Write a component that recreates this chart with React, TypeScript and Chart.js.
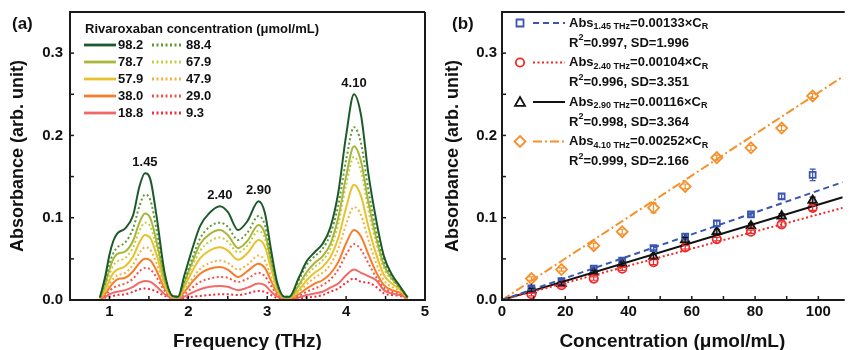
import React, { useEffect, useRef } from 'react';
import { Chart, registerables } from 'chart.js';

Chart.register(...registerables);

const FONT = "'Liberation Sans', Arial, Helvetica, sans-serif";

// ---------- Panel (a): spectra ----------
const spectrumFreq = [
  0.88, 0.95, 1.0, 1.05, 1.1, 1.2, 1.3, 1.38, 1.45, 1.52, 1.6, 1.7, 1.8,
  1.87, 1.95, 2.05, 2.15, 2.27, 2.4, 2.5, 2.63, 2.75, 2.89, 2.97, 3.05, 3.13, 3.22,
  3.28, 3.4, 3.5, 3.6, 3.7, 3.8, 3.9, 4.0, 4.1, 4.19, 4.28, 4.38, 4.48, 4.58, 4.68, 4.78,
];

const abs982 = [
  0.003, 0.030, 0.055, 0.072, 0.081, 0.087, 0.103, 0.138, 0.154, 0.146, 0.100, 0.033, 0.005,
  0.004, 0.030, 0.062, 0.090, 0.106, 0.114, 0.107, 0.085, 0.096, 0.120, 0.106, 0.060, 0.020, 0.004,
  0.004, 0.027, 0.047, 0.058, 0.068, 0.088, 0.130, 0.200, 0.250, 0.224, 0.155, 0.098, 0.053, 0.031, 0.017, 0.003,
];
const abs884 = [
  0.003, 0.024, 0.044, 0.057, 0.064, 0.070, 0.087, 0.114, 0.128, 0.121, 0.084, 0.030, 0.005,
  0.004, 0.024, 0.051, 0.075, 0.089, 0.094, 0.089, 0.073, 0.082, 0.102, 0.091, 0.052, 0.018, 0.004,
  0.004, 0.024, 0.043, 0.053, 0.062, 0.080, 0.115, 0.170, 0.210, 0.190, 0.135, 0.085, 0.047, 0.028, 0.015, 0.003,
];
const abs787 = [
  0.003, 0.020, 0.037, 0.050, 0.056, 0.059, 0.072, 0.094, 0.105, 0.099, 0.070, 0.025, 0.004,
  0.003, 0.021, 0.046, 0.068, 0.080, 0.085, 0.079, 0.063, 0.072, 0.091, 0.081, 0.047, 0.016, 0.003,
  0.003, 0.018, 0.034, 0.045, 0.053, 0.068, 0.100, 0.150, 0.187, 0.168, 0.120, 0.076, 0.042, 0.026, 0.016, 0.003,
];
const abs679 = [
  0.003, 0.017, 0.031, 0.042, 0.047, 0.051, 0.064, 0.084, 0.094, 0.089, 0.063, 0.023, 0.004,
  0.003, 0.019, 0.041, 0.060, 0.071, 0.076, 0.071, 0.058, 0.066, 0.084, 0.075, 0.043, 0.015, 0.003,
  0.003, 0.016, 0.030, 0.040, 0.048, 0.062, 0.092, 0.140, 0.174, 0.156, 0.110, 0.070, 0.038, 0.024, 0.015, 0.003,
];
const abs579 = [
  0.002, 0.013, 0.024, 0.033, 0.037, 0.041, 0.053, 0.070, 0.079, 0.075, 0.054, 0.020, 0.003,
  0.003, 0.016, 0.035, 0.051, 0.060, 0.064, 0.060, 0.049, 0.057, 0.073, 0.065, 0.038, 0.013, 0.003,
  0.003, 0.012, 0.024, 0.033, 0.040, 0.052, 0.075, 0.112, 0.140, 0.126, 0.090, 0.056, 0.030, 0.020, 0.013, 0.003,
];
const abs479 = [
  0.002, 0.010, 0.019, 0.026, 0.030, 0.033, 0.043, 0.057, 0.064, 0.061, 0.044, 0.017, 0.003,
  0.002, 0.012, 0.026, 0.038, 0.045, 0.048, 0.045, 0.037, 0.043, 0.054, 0.048, 0.028, 0.010, 0.002,
  0.002, 0.010, 0.019, 0.027, 0.033, 0.043, 0.062, 0.092, 0.113, 0.103, 0.074, 0.045, 0.024, 0.016, 0.011, 0.002,
];
const abs380 = [
  0.002, 0.008, 0.015, 0.021, 0.025, 0.027, 0.035, 0.045, 0.050, 0.048, 0.035, 0.014, 0.003,
  0.002, 0.010, 0.022, 0.032, 0.038, 0.040, 0.037, 0.028, 0.035, 0.044, 0.039, 0.023, 0.008, 0.002,
  0.002, 0.007, 0.014, 0.020, 0.024, 0.032, 0.046, 0.069, 0.085, 0.077, 0.056, 0.034, 0.018, 0.012, 0.009, 0.002,
];
const abs290 = [
  0.002, 0.006, 0.011, 0.015, 0.017, 0.020, 0.026, 0.035, 0.039, 0.037, 0.027, 0.011, 0.002,
  0.002, 0.007, 0.015, 0.022, 0.026, 0.028, 0.027, 0.022, 0.026, 0.033, 0.029, 0.017, 0.006, 0.002,
  0.002, 0.005, 0.010, 0.014, 0.018, 0.025, 0.037, 0.055, 0.068, 0.061, 0.045, 0.028, 0.015, 0.010, 0.008, 0.002,
];
const abs188 = [
  0.001, 0.004, 0.007, 0.009, 0.010, 0.012, 0.016, 0.021, 0.023, 0.022, 0.016, 0.007, 0.002,
  0.001, 0.004, 0.009, 0.013, 0.016, 0.017, 0.016, 0.012, 0.015, 0.020, 0.018, 0.010, 0.004, 0.001,
  0.001, 0.003, 0.006, 0.008, 0.010, 0.015, 0.020, 0.030, 0.037, 0.033, 0.029, 0.024, 0.012, 0.008, 0.006, 0.002,
];
const abs093 = [
  0.001, 0.003, 0.004, 0.005, 0.006, 0.007, 0.010, 0.013, 0.014, 0.013, 0.010, 0.005, 0.002,
  0.001, 0.002, 0.004, 0.005, 0.006, 0.007, 0.007, 0.006, 0.008, 0.011, 0.010, 0.006, 0.002, 0.001,
  0.001, 0.002, 0.003, 0.004, 0.006, 0.010, 0.014, 0.021, 0.026, 0.022, 0.021, 0.016, 0.008, 0.006, 0.005, 0.002,
];

const spectrumLabels = ['98.2', '88.4', '78.7', '67.9', '57.9', '47.9', '38.0', '29.0', '18.8', '9.3'];
const spectrumValues = [abs982, abs884, abs787, abs679, abs579, abs479, abs380, abs290, abs188, abs093];
const spectrumColors = ['#1d5a2b', '#5e9a33', '#a8b63b', '#c6cd3e', '#e8c22e', '#f3b23c', '#f67e2b', '#f4544c', '#f26a68', '#ee2f3c'];
const spectrumDotted = [false, true, false, true, false, true, false, true, false, true];

const peakLabels = ['1.45', '2.40', '2.90', '4.10'];
const peakFreqs = [1.45, 2.4, 2.89, 4.1];
const legendTitleA = 'Rivaroxaban concentration (\u03bcmol/mL)';

// ---------- Panel (b): calibration ----------
const concentration = [9.3, 18.8, 29.0, 38.0, 47.9, 57.9, 67.9, 78.7, 88.4, 98.2];
const absAt145 = [0.014, 0.023, 0.038, 0.048, 0.063, 0.077, 0.093, 0.104, 0.126, 0.152];
const absAt240 = [0.007, 0.018, 0.026, 0.038, 0.046, 0.064, 0.074, 0.083, 0.092, 0.112];
const absAt290 = [0.012, 0.020, 0.034, 0.044, 0.053, 0.073, 0.083, 0.090, 0.102, 0.121];
const absAt410 = [0.026, 0.037, 0.066, 0.083, 0.112, 0.138, 0.173, 0.185, 0.209, 0.248];
const errAt145 = [0.002, 0.002, 0.002, 0.002, 0.002, 0.003, 0.003, 0.002, 0.003, 0.007];
const errAt240 = [0.002, 0.002, 0.002, 0.002, 0.003, 0.002, 0.002, 0.002, 0.003, 0.003];
const errAt290 = [0.002, 0.002, 0.002, 0.002, 0.003, 0.003, 0.003, 0.003, 0.003, 0.004];
const errAt410 = [0.002, 0.002, 0.003, 0.003, 0.006, 0.003, 0.003, 0.003, 0.003, 0.003];

const fitBands = ['1.45 THz', '2.40 THz', '2.90 THz', '4.10 THz'];
const fitSlopes = [0.00133, 0.00104, 0.00116, 0.00252];
const fitR2 = ['0.997', '0.996', '0.998', '0.999'];
const fitSD = ['1.996', '3.351', '3.364', '2.166'];
const concMax = 107.7;

const seriesColorsB = ['#3a56b0', '#ee2a2a', '#111111', '#f5902a'];
const markerStylesB = ['rect', 'circle', 'triangle', 'rectRot'];
const lineDashB = [[6, 4], [2, 2.5], [], [9, 3, 2, 3]];

// ---------- helpers ----------
function isMult(v: number, step: number) {
  const r = v / step;
  return Math.abs(r - Math.round(r)) < 1e-6;
}

const framePlugin = (fullBox: boolean) => ({
  id: 'frame',
  afterDatasetsDraw(chart: any) {
    const { ctx, chartArea, scales } = chart;
    const { left, right, top, bottom } = chartArea;
    ctx.save();
    ctx.strokeStyle = '#1a1a1a';
    ctx.lineWidth = 1.5;
    ctx.setLineDash([]);
    scales.x.ticks.forEach((t: any) => {
      const px = scales.x.getPixelForValue(t.value);
      ctx.beginPath();
      ctx.moveTo(px, bottom);
      ctx.lineTo(px, bottom - 4);
      ctx.stroke();
    });
    scales.y.ticks.forEach((t: any) => {
      const py = scales.y.getPixelForValue(t.value);
      ctx.beginPath();
      ctx.moveTo(left, py);
      ctx.lineTo(left + 4, py);
      ctx.stroke();
    });
    ctx.lineWidth = 2;
    ctx.beginPath();
    ctx.moveTo(right + (fullBox ? 0 : 2), top);
    ctx.lineTo(left, top);
    ctx.lineTo(left, bottom);
    ctx.lineTo(right + (fullBox ? 0 : 2), bottom);
    if (fullBox) ctx.lineTo(right, top);
    ctx.stroke();
    ctx.restore();
  },
});

const panelLabel = (text: string, x: number, y: number) => ({
  id: 'panelLabel',
  afterDraw(chart: any) {
    const ctx = chart.ctx;
    ctx.save();
    ctx.font = `bold 17px ${FONT}`;
    ctx.fillStyle = '#111';
    ctx.textBaseline = 'middle';
    ctx.fillText(text, x, y);
    ctx.restore();
  },
});

const legendAPlugin = {
  id: 'legendA',
  afterDraw(chart: any) {
    const ctx = chart.ctx;
    ctx.save();
    ctx.font = `bold 13px ${FONT}`;
    ctx.fillStyle = '#111';
    ctx.textBaseline = 'middle';
    ctx.fillText(legendTitleA, 85, 29);
    chart.data.datasets.forEach((ds: any, i: number) => {
      const col = i % 2;
      const row = Math.floor(i / 2);
      const y = 45 + row * 17;
      const x0 = col === 0 ? 84 : 152;
      const x1 = col === 0 ? 116 : 181;
      ctx.strokeStyle = ds.borderColor;
      ctx.lineWidth = 2.8;
      ctx.setLineDash(ds.borderDash || []);
      ctx.beginPath();
      ctx.moveTo(x0, y);
      ctx.lineTo(x1, y);
      ctx.stroke();
      ctx.setLineDash([]);
      ctx.fillText(ds.label, col === 0 ? 118 : 186, y);
    });
    ctx.restore();
  },
};

const peakLabelPlugin = {
  id: 'peakLabels',
  afterDatasetsDraw(chart: any) {
    const { ctx, scales } = chart;
    const top = chart.data.datasets[0].data as { x: number; y: number }[];
    ctx.save();
    ctx.font = `bold 13px ${FONT}`;
    ctx.fillStyle = '#111';
    ctx.textAlign = 'center';
    ctx.textBaseline = 'middle';
    peakLabels.forEach((lab, i) => {
      const f = peakFreqs[i];
      let best = top[0];
      top.forEach((p) => {
        if (Math.abs(p.x - f) < Math.abs(best.x - f)) best = p;
      });
      ctx.fillText(lab, scales.x.getPixelForValue(f), scales.y.getPixelForValue(best.y) - 11);
    });
    ctx.restore();
  },
};

function drawMarker(ctx: CanvasRenderingContext2D, style: string, x: number, y: number, color: string) {
  ctx.save();
  ctx.strokeStyle = color;
  ctx.lineWidth = 1.8;
  ctx.setLineDash([]);
  ctx.beginPath();
  if (style === 'rect') {
    ctx.rect(x - 3.5, y - 3.5, 7, 7);
  } else if (style === 'circle') {
    ctx.arc(x, y, 4.2, 0, Math.PI * 2);
  } else if (style === 'triangle') {
    ctx.moveTo(x, y - 5);
    ctx.lineTo(x + 5, y + 3.8);
    ctx.lineTo(x - 5, y + 3.8);
    ctx.closePath();
  } else {
    ctx.moveTo(x, y - 5.5);
    ctx.lineTo(x + 5.5, y);
    ctx.lineTo(x, y + 5.5);
    ctx.lineTo(x - 5.5, y);
    ctx.closePath();
  }
  ctx.stroke();
  ctx.restore();
}

function drawRich(ctx: CanvasRenderingContext2D, x: number, y: number, parts: [string, string][]) {
  let cx = x;
  for (const [t, k] of parts) {
    const size = k === 'n' ? 13 : 9;
    ctx.font = `bold ${size}px ${FONT}`;
    const dy = k === 'sub' ? 4 : k === 'sup' ? -5 : 0;
    ctx.fillText(t, cx, y + dy);
    cx += ctx.measureText(t).width;
  }
}

const legendBPlugin = {
  id: 'legendB',
  afterDraw(chart: any) {
    const ctx = chart.ctx;
    ctx.save();
    ctx.fillStyle = '#111';
    ctx.textBaseline = 'middle';
    fitBands.forEach((band, i) => {
      const y = 23 + i * 39.5;
      drawMarker(ctx, markerStylesB[i], 90, y, seriesColorsB[i]);
      ctx.strokeStyle = seriesColorsB[i];
      ctx.lineWidth = 2;
      ctx.setLineDash(lineDashB[i]);
      ctx.beginPath();
      ctx.moveTo(103, y);
      ctx.lineTo(135, y);
      ctx.stroke();
      ctx.setLineDash([]);
      ctx.fillStyle = '#111';
      drawRich(ctx, 139, y, [
        ['Abs', 'n'],
        [band, 'sub'],
        ['=' + fitSlopes[i].toFixed(5) + '\u00d7C', 'n'],
        ['R', 'sub'],
      ]);
      drawRich(ctx, 139, y + 20, [
        ['R', 'n'],
        ['2', 'sup'],
        ['=' + fitR2[i] + ', SD=' + fitSD[i], 'n'],
      ]);
    });
    ctx.restore();
  },
};

const errorBarPlugin = {
  id: 'errorBars',
  afterDatasetsDraw(chart: any) {
    const { ctx, scales } = chart;
    ctx.save();
    chart.data.datasets.forEach((ds: any) => {
      if (!ds.errors) return;
      ctx.strokeStyle = ds.borderColor;
      ctx.lineWidth = 1.2;
      ctx.setLineDash([]);
      ds.data.forEach((p: any, j: number) => {
        const e = ds.errors[j];
        const px = scales.x.getPixelForValue(p.x);
        const y1 = scales.y.getPixelForValue(p.y + e);
        const y2 = scales.y.getPixelForValue(p.y - e);
        ctx.beginPath();
        ctx.moveTo(px, y1);
        ctx.lineTo(px, y2);
        ctx.moveTo(px - 3, y1);
        ctx.lineTo(px + 3, y1);
        ctx.moveTo(px - 3, y2);
        ctx.lineTo(px + 3, y2);
        ctx.stroke();
      });
    });
    ctx.restore();
  },
};

const tickFont = { family: FONT, size: 15, weight: 'bold' as const };

function yScale(titlePad: number, labelPad: number, width: number) {
  return {
    type: 'linear' as const,
    min: 0,
    max: 0.35,
    grid: { display: false, drawTicks: false },
    border: { display: false },
    ticks: {
      stepSize: 0.05,
      autoSkip: false,
      padding: labelPad,
      color: '#111',
      font: tickFont,
      callback: (v: any) => (isMult(Number(v), 0.1) ? (Math.round(Number(v) * 10) / 10).toFixed(1) : ''),
    },
    title: {
      display: true,
      text: 'Absorbance (arb. unit)',
      color: '#111',
      font: { family: FONT, size: 18, weight: 'bold' as const },
      padding: { top: titlePad, bottom: 0 },
    },
    afterFit: (s: any) => {
      s.width = width;
      s.paddingTop = 0;
      s.paddingBottom = 0;
    },
  };
}

function xFit(s: any) {
  s.height = 60;
  s.paddingLeft = 0;
  s.paddingRight = 0;
}

export default function App() {
  const refA = useRef<HTMLCanvasElement>(null);
  const refB = useRef<HTMLCanvasElement>(null);

  useEffect(() => {
    const datasetsA = spectrumLabels.map((label, i) => ({
      label,
      data: spectrumFreq.map((f, j) => ({ x: f, y: spectrumValues[i][j] })),
      borderColor: spectrumColors[i],
      backgroundColor: spectrumColors[i],
      borderWidth: 2,
      borderDash: spectrumDotted[i] ? [2, 2.5] : [],
      pointRadius: 0,
      cubicInterpolationMode: 'monotone' as const,
      fill: false,
    }));

    const chartA = new Chart(refA.current as HTMLCanvasElement, {
      type: 'line',
      data: { datasets: datasetsA },
      options: {
        responsive: false,
        animation: false,
        events: [],
        layout: { padding: { left: 0, right: 5, top: 12, bottom: 0 } },
        plugins: { legend: { display: false }, tooltip: { enabled: false } },
        scales: {
          x: {
            type: 'linear',
            min: 0.5,
            max: 5,
            grid: { display: false, drawTicks: false },
            border: { display: false },
            ticks: {
              stepSize: 0.5,
              autoSkip: false,
              maxRotation: 0,
              padding: 3,
              color: '#111',
              font: tickFont,
              callback: (v: any) => (isMult(Number(v), 1) ? String(Math.round(Number(v))) : ''),
            },
            title: {
              display: true,
              text: 'Frequency (THz)',
              color: '#111',
              font: { family: FONT, size: 19, weight: 'bold' },
              padding: { top: 0, bottom: 6.6 },
            },
            afterFit: xFit,
          },
          y: yScale(7, 7, 70),
        },
      },
      plugins: [framePlugin(true), legendAPlugin, peakLabelPlugin, panelLabel('(a)', 12, 24)],
    } as any);

    const scatterSets = [absAt145, absAt240, absAt290, absAt410].map((vals, i) => ({
      label: 'Abs ' + fitBands[i],
      type: 'scatter' as const,
      data: concentration.map((c, j) => ({ x: c, y: vals[j] })),
      errors: [errAt145, errAt240, errAt290, errAt410][i],
      showLine: false,
      pointStyle: markerStylesB[i],
      pointRadius: markerStylesB[i] === 'rectRot' ? 5.5 : markerStylesB[i] === 'triangle' ? 5 : 4.2,
      pointBorderWidth: 1.8,
      borderColor: seriesColorsB[i],
      pointBorderColor: seriesColorsB[i],
      pointBackgroundColor: markerStylesB[i] === 'triangle' ? 'rgba(90,90,90,0.45)' : 'rgba(255,255,255,0)',
      backgroundColor: 'rgba(255,255,255,0)',
    }));
    const fitSets = fitSlopes.map((k, i) => ({
      label: 'Fit ' + fitBands[i],
      type: 'scatter' as const,
      data: [
        { x: 0, y: 0 },
        { x: concMax, y: k * concMax },
      ],
      showLine: true,
      borderColor: seriesColorsB[i],
      borderWidth: 2,
      borderDash: lineDashB[i],
      pointRadius: 0,
      fill: false,
    }));

    const chartB = new Chart(refB.current as HTMLCanvasElement, {
      type: 'scatter',
      data: { datasets: [...fitSets, ...scatterSets] },
      options: {
        responsive: false,
        animation: false,
        events: [],
        layout: { padding: { left: 0, right: 0, top: 12, bottom: 0 } },
        plugins: { legend: { display: false }, tooltip: { enabled: false } },
        scales: {
          x: {
            type: 'linear',
            min: 0,
            max: concMax,
            grid: { display: false, drawTicks: false },
            border: { display: false },
            ticks: {
              stepSize: 10,
              includeBounds: false,
              autoSkip: false,
              maxRotation: 0,
              padding: 3,
              color: '#111',
              font: tickFont,
              callback: (v: any) => (isMult(Number(v), 20) ? String(Math.round(Number(v))) : ''),
            },
            title: {
              display: true,
              text: 'Concentration (\u03bcmol/mL)',
              color: '#111',
              font: { family: FONT, size: 19, weight: 'bold' },
              padding: { top: 0, bottom: 6.6 },
            },
            afterFit: xFit,
          },
          y: yScale(12, 5, 72),
        },
      },
      plugins: [framePlugin(false), errorBarPlugin, legendBPlugin, panelLabel('(b)', 22, 24)],
    } as any);

    return () => {
      chartA.destroy();
      chartB.destroy();
    };
  }, []);

  return (
    <div style={{ position: 'absolute', left: 0, top: 0, width: 850, height: 350, overflow: 'hidden', background: '#fff' }}>
      <canvas ref={refA} width={430} height={360} style={{ position: 'absolute', left: 0, top: 0, width: 430, height: 360 }} />
      <canvas ref={refB} width={420} height={360} style={{ position: 'absolute', left: 430, top: 0, width: 420, height: 360 }} />
    </div>
  );
}
